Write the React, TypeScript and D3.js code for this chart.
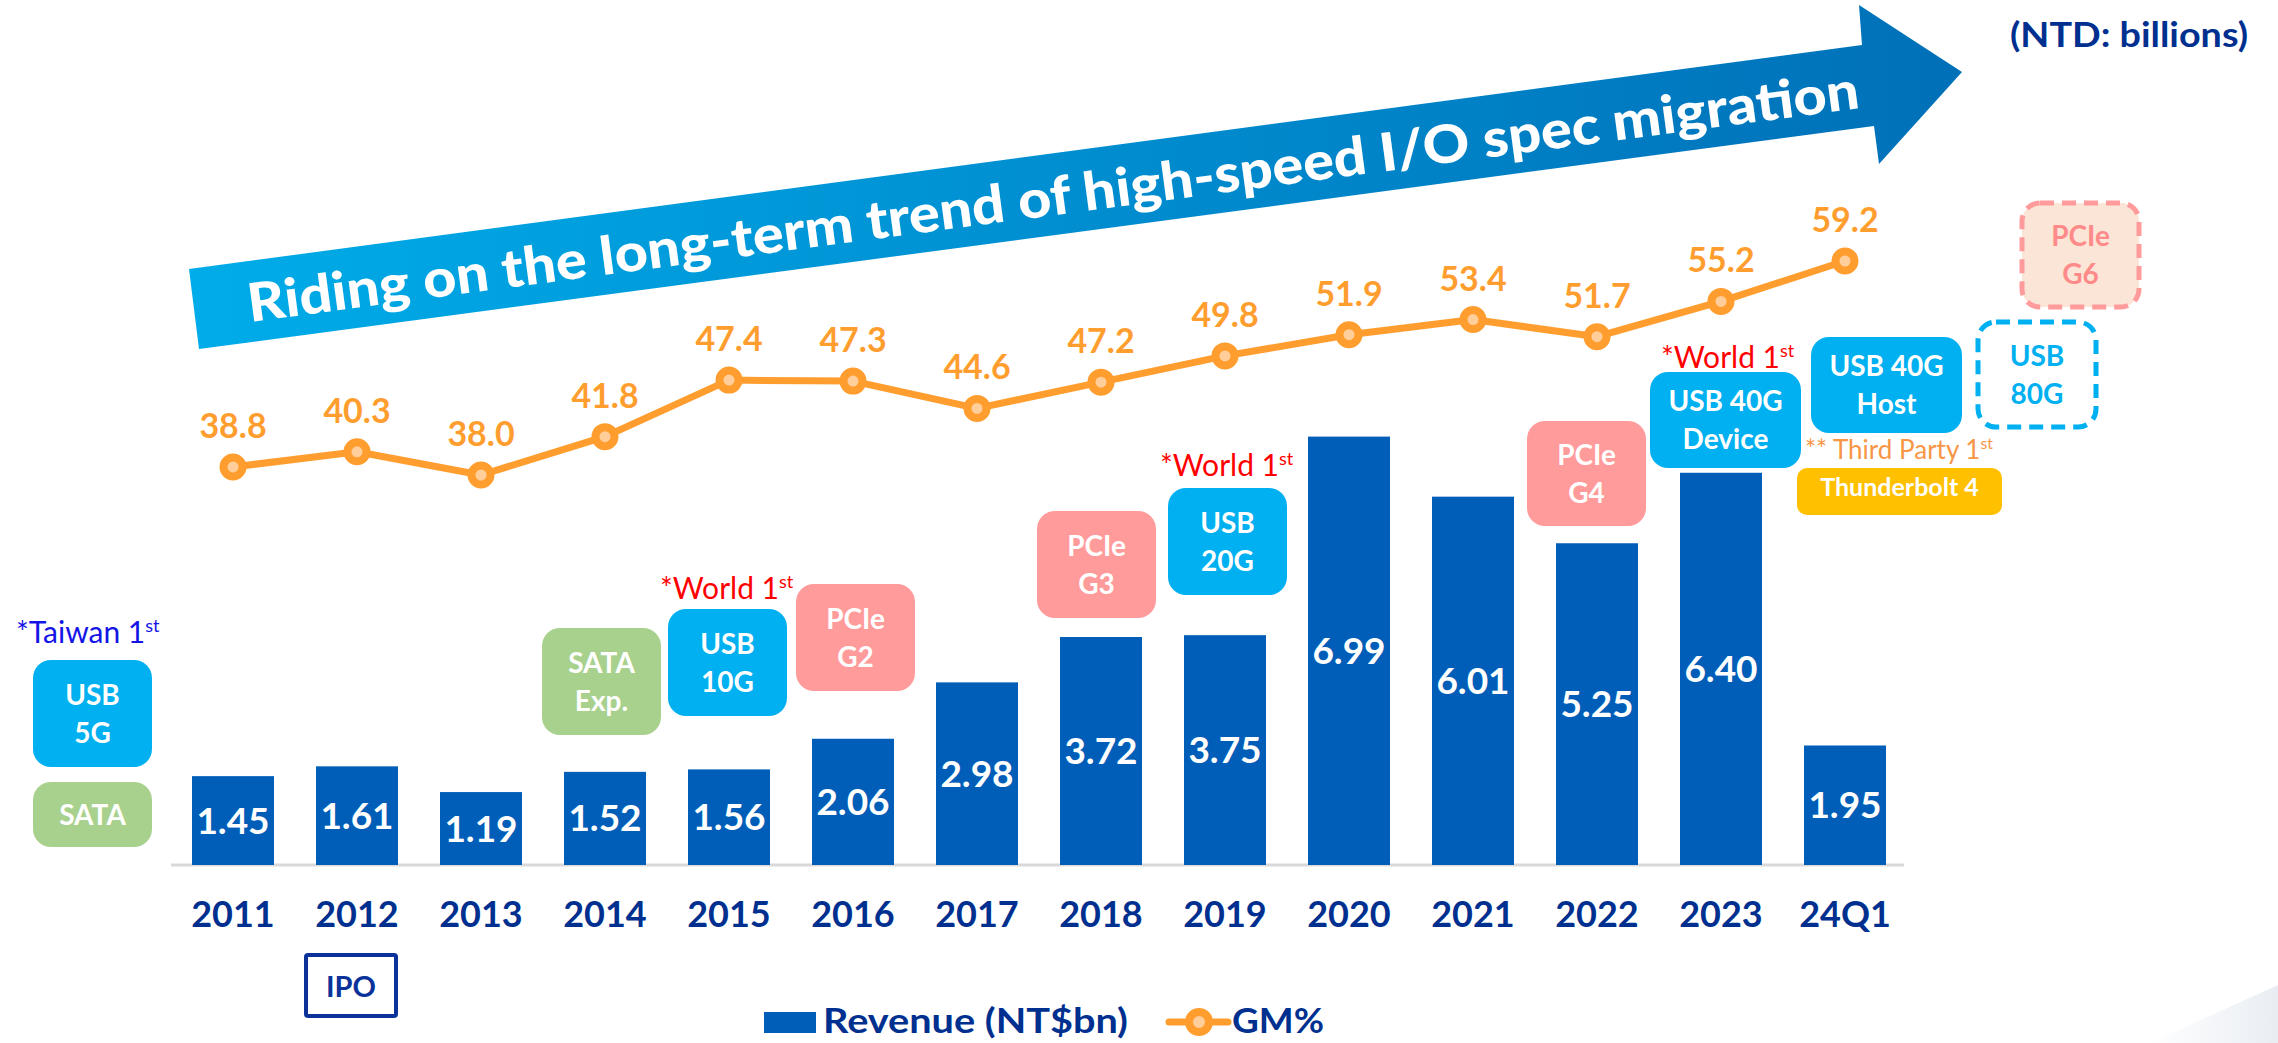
import React from "react";
import * as d3 from "d3";

const categories = ["2011","2012","2013","2014","2015","2016","2017","2018","2019","2020","2021","2022","2023","24Q1"];
const revenue = [1.45,1.61,1.19,1.52,1.56,2.06,2.98,3.72,3.75,6.99,6.01,5.25,6.40,1.95];
const gmPct = [38.8,40.3,38.0,41.8,47.4,47.3,44.6,47.2,49.8,51.9,53.4,51.7,55.2,59.2];
const revenueLabels = ["1.45","1.61","1.19","1.52","1.56","2.06","2.98","3.72","3.75","6.99","6.01","5.25","6.40","1.95"];
const gmLabels = ["38.8","40.3","38.0","41.8","47.4","47.3","44.6","47.2","49.8","51.9","53.4","51.7","55.2","59.2"];

const titleText = "Riding on the long-term trend of high-speed I/O spec migration";
const unitText = "(NTD: billions)";
const legendRevenue = "Revenue (NT$bn)";
const legendGM = "GM%";

const CYAN = "#00B0F0";
const GREEN = "#A9D18E";
const PINK = "#FF9B9B";
const YELLOW = "#FFC000";
const NAVY = "#00308F";
const BAR = "#005EB8";
const ORANGE = "#FF9E2F";
const PEACH = "#FFCE9A";
const FONT = "Lato, 'Open Sans', sans-serif";

type Box = { x0: number; y0: number; x1: number; y1: number; lines: string[]; fill: string; color: string; stroke?: string; dash?: boolean; r?: number; fs?: number; };

const boxes: Box[] = [
  { x0: 33, y0: 660, x1: 152, y1: 767, lines: ["USB", "5G"], fill: CYAN, color: "#fff" },
  { x0: 33, y0: 782, x1: 152, y1: 847, lines: ["SATA"], fill: GREEN, color: "#fff" },
  { x0: 542, y0: 628, x1: 661, y1: 735, lines: ["SATA", "Exp."], fill: GREEN, color: "#fff" },
  { x0: 668, y0: 609, x1: 787, y1: 716, lines: ["USB", "10G"], fill: CYAN, color: "#fff" },
  { x0: 796, y0: 584, x1: 915, y1: 691, lines: ["PCIe", "G2"], fill: PINK, color: "#fff" },
  { x0: 1037, y0: 511, x1: 1156, y1: 618, lines: ["PCIe", "G3"], fill: PINK, color: "#fff" },
  { x0: 1168, y0: 488, x1: 1287, y1: 595, lines: ["USB", "20G"], fill: CYAN, color: "#fff" },
  { x0: 1527, y0: 421, x1: 1646, y1: 526, lines: ["PCIe", "G4"], fill: PINK, color: "#fff" },
  { x0: 1650, y0: 372, x1: 1801, y1: 468, lines: ["USB 40G", "Device"], fill: CYAN, color: "#fff" },
  { x0: 1811, y0: 337, x1: 1962, y1: 433, lines: ["USB 40G", "Host"], fill: CYAN, color: "#fff" },
  { x0: 1797, y0: 468, x1: 2002, y1: 515, lines: ["Thunderbolt 4"], fill: YELLOW, color: "#fff", r: 10, fs: 25 },
  { x0: 1978, y0: 322, x1: 2096, y1: 427, lines: ["USB", "80G"], fill: "#fff", color: CYAN, stroke: CYAN, dash: true },
  { x0: 2022, y0: 203, x1: 2139, y1: 307, lines: ["PCIe", "G6"], fill: "#FBE5D6", color: "#FF8A8A", stroke: "#FF9B9B", dash: true },
];

const notes = [
  { x: 16, y: 643, text: "*Taiwan 1", color: "#1414E6", fs: 30 },
  { x: 660, y: 599, text: "*World 1", color: "#FF0000", fs: 30 },
  { x: 1160, y: 476, text: "*World 1", color: "#FF0000", fs: 30 },
  { x: 1661, y: 368, text: "*World 1", color: "#FF0000", fs: 30 },
  { x: 1805, y: 459, text: "** Third Party 1", color: "#F79646", fs: 26 },
];

export default function App() {
  const W = 2278, H = 1043;
  const x = d3.scalePoint<string>().domain(categories).range([233, 1845]);
  const barW = 82;
  const yRev = d3.scaleLinear().domain([0, 7]).range([865, 436]);
  const yGM = d3.scaleLinear().domain([38, 59.2]).range([475, 261]);
  const line = d3.line<number>().x((_, i) => x(categories[i])!).y(d => yGM(d));

  return (
    <svg width={W} height={H} style={{ position: "absolute", left: 0, top: 0, display: "block", background: "#fff" }} fontFamily={FONT}>
      <defs>
        <linearGradient id="arrowGrad" x1="189" y1="0" x2="1962" y2="0" gradientUnits="userSpaceOnUse">
          <stop offset="0" stopColor="#00ACE9" />
          <stop offset="1" stopColor="#0070B8" />
        </linearGradient>
        <linearGradient id="swoosh" x1="0" y1="0" x2="1" y2="0">
          <stop offset="0" stopColor="#ffffff" />
          <stop offset="1" stopColor="#E9EDF3" />
        </linearGradient>
      </defs>
      <polygon points="2150,1043 2278,985 2278,1043" fill="url(#swoosh)" />

      {/* Title arrow */}
      <polygon points="189,269 1862,45 1859,5 1962,72 1879,164 1874,126 199,349" fill="url(#arrowGrad)" />
      <text transform={`translate(250,322) rotate(${(Math.atan2(-214, 1611) * 180) / Math.PI})`} fill="#fff" fontSize={53} fontWeight={900} textLength={1625} lengthAdjust="spacingAndGlyphs">{titleText}</text>

      <text x={2248} y={47} textAnchor="end" fill={NAVY} fontSize={34} fontWeight={700} textLength={238} lengthAdjust="spacingAndGlyphs">{unitText}</text>

      {/* baseline */}
      <line x1={171} x2={1904} y1={865} y2={865} stroke="#D9D9D9" strokeWidth={3} />

      {/* bars */}
      {revenue.map((v, i) => (
        <g key={categories[i]}>
          <rect x={x(categories[i])! - barW / 2} y={yRev(v)} width={barW} height={yRev(0) - yRev(v)} fill={BAR} />
          <text x={x(categories[i])!} y={(yRev(v) + yRev(0)) / 2 + 13} textAnchor="middle" fill="#fff" fontSize={37} fontWeight={700}>{revenueLabels[i]}</text>
          <text x={x(categories[i])!} y={927} textAnchor="middle" fill={NAVY} fontSize={36} fontWeight={700}>{categories[i]}</text>
        </g>
      ))}

      {/* GM line */}
      <path d={line(gmPct)!} fill="none" stroke={ORANGE} strokeWidth={7} strokeLinejoin="round" />
      {gmPct.map((v, i) => (
        <g key={"gm" + i}>
          <circle cx={x(categories[i])!} cy={yGM(v)} r={9.5} fill={PEACH} stroke={ORANGE} strokeWidth={8} />
          <text x={x(categories[i])!} y={yGM(v) - 29} textAnchor="middle" fill={ORANGE} fontSize={34} fontWeight={700}>{gmLabels[i]}</text>
        </g>
      ))}

      {/* annotation boxes */}
      {boxes.map((b, i) => {
        const cx = (b.x0 + b.x1) / 2, cy = (b.y0 + b.y1) / 2;
        const fs = b.fs ?? 28;
        const bl = b.lines.length === 1 ? [cy + (b.fs ? 4 : 10)] : [cy - 9, cy + 29];
        return (
          <g key={"box" + i}>
            <rect x={b.x0} y={b.y0} width={b.x1 - b.x0} height={b.y1 - b.y0} rx={b.r ?? 18} fill={b.fill}
              stroke={b.stroke ?? "none"} strokeWidth={b.stroke ? 5 : 0} strokeDasharray={b.dash ? "14 8" : undefined} />
            {b.lines.map((t, j) => (
              <text key={j} x={cx} y={bl[j]} textAnchor="middle" fill={b.color} fontSize={fs} fontWeight={700}>{t}</text>
            ))}
          </g>
        );
      })}

      {/* IPO */}
      <rect x={306} y={955} width={90} height={61} rx={2} fill="#fff" stroke="#0A3299" strokeWidth={4} />
      <text x={351} y={997} textAnchor="middle" fill="#0A3299" fontSize={29} fontWeight={700}>IPO</text>

      {/* notes */}
      {notes.map((n, i) => (
        <text key={"n" + i} x={n.x} y={n.y} fill={n.color} fontSize={n.fs}>
          {n.text}
          <tspan fontSize={n.fs * 0.6} dy={-n.fs * 0.38}>st</tspan>
        </text>
      ))}

      {/* legend */}
      <rect x={764} y={1012} width={52} height={21} fill={BAR} />
      <text x={823} y={1033} fill={NAVY} fontSize={35} fontWeight={700} textLength={305} lengthAdjust="spacingAndGlyphs">{legendRevenue}</text>
      <line x1={1169} x2={1228} y1={1022} y2={1022} stroke={ORANGE} strokeWidth={7} strokeLinecap="round" />
      <circle cx={1199} cy={1022} r={10} fill={PEACH} stroke={ORANGE} strokeWidth={8} />
      <text x={1232} y={1033} fill={NAVY} fontSize={35} fontWeight={700} textLength={92} lengthAdjust="spacingAndGlyphs">{legendGM}</text>
    </svg>
  );
}
